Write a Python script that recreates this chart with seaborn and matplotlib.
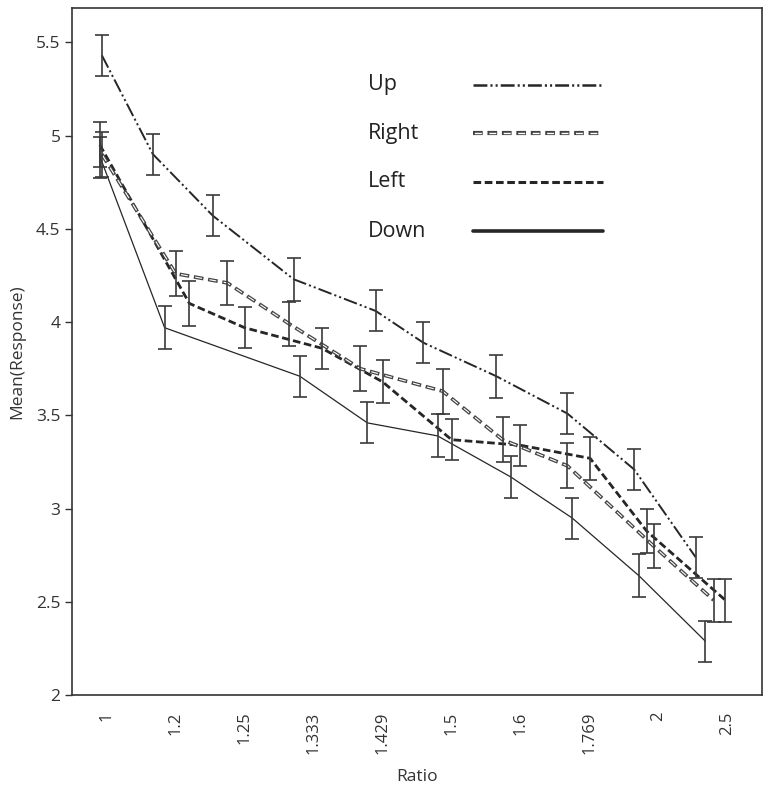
import numpy as np
import pandas as pd
import matplotlib
matplotlib.use("Agg")
import matplotlib.pyplot as plt
import seaborn as sns

# Categories on the x axis
ratios = ['1', '1.2', '1.25', '1.333', '1.429', '1.5', '1.6', '1.769', '2', '2.5']
directions = ['Up', 'Right', 'Left', 'Down']

# Mean response per ratio (Down has no 1.25 point)
up_mean = [5.43, 4.90, 4.57, 4.23, 4.06, 3.89, 3.71, 3.51, 3.21, 2.74]
right_mean = [4.90, 4.26, 4.21, 3.99, 3.75, 3.63, 3.37, 3.23, 2.80, 2.51]
left_mean = [4.95, 4.10, 3.97, 3.86, 3.68, 3.37, 3.34, 3.27, 2.88, 2.51]
down_mean = [4.88, 3.97, np.nan, 3.71, 3.46, 3.39, 3.17, 2.95, 2.64, 2.29]

# Half width of the error bars
up_err = [0.11, 0.11, 0.11, 0.115, 0.11, 0.11, 0.115, 0.11, 0.11, 0.11]
right_err = [0.12, 0.12, 0.12, 0.12, 0.12, 0.12, 0.12, 0.12, 0.12, 0.115]
left_err = [0.12, 0.12, 0.11, 0.11, 0.115, 0.11, 0.11, 0.115, 0.12, 0.115]
down_err = [0.11, 0.115, np.nan, 0.11, 0.11, 0.115, 0.11, 0.11, 0.115, 0.11]

# Jitter of each point inside its ratio slot (fraction of a slot)
up_shift = [-0.07, -0.33, -0.46, -0.29, -0.10, -0.41, -0.35, -0.32, -0.35, -0.46]
right_shift = [-0.07, 0.00, -0.25, -0.35, -0.32, -0.13, -0.26, -0.32, -0.07, -0.20]
left_shift = [-0.10, 0.20, 0.00, 0.12, 0.00, 0.00, 0.00, 0.01, -0.17, -0.03]
down_shift = [-0.09, -0.16, 0.00, -0.20, -0.22, -0.20, -0.14, -0.25, -0.28, -0.32]

means = {'Up': up_mean, 'Right': right_mean, 'Left': left_mean, 'Down': down_mean}
errs = {'Up': up_err, 'Right': right_err, 'Left': left_err, 'Down': down_err}
shifts = {'Up': up_shift, 'Right': right_shift, 'Left': left_shift, 'Down': down_shift}

rows = []
for d in directions:
    for i, r in enumerate(ratios):
        rows.append({'direction': d, 'ratio': r, 'pos': i + shifts[d][i],
                     'mean': means[d][i], 'err': errs[d][i]})
df = pd.DataFrame(rows).dropna()

sns.set_style('white')
plt.rcParams['font.family'] = ['Open Sans', 'DejaVu Sans']
plt.rcParams['lines.scale_dashes'] = False

ink = '#262626'
grey = '#333333'
fig, ax = plt.subplots(figsize=(7.68, 7.91), dpi=100)

up_ls = (0, (10, 2.2, 1.5, 2.2, 1.5, 2.2))
left_ls = (0, (5.5, 2.6))
right_ls_out = (0, (7, 3.4))
right_ls_in = (9.4, (5, 5.4))

sns.lineplot(data=df[df['direction'] == 'Up'], x='pos', y='mean', ax=ax,
             color=ink, lw=1.4, linestyle=up_ls, errorbar=None)
sns.lineplot(data=df[df['direction'] == 'Left'], x='pos', y='mean', ax=ax,
             color=ink, lw=2.0, linestyle=left_ls, errorbar=None)
sns.lineplot(data=df[df['direction'] == 'Down'], x='pos', y='mean', ax=ax,
             color=ink, lw=0.9, errorbar=None)
# Right: hollow dashes = dark dashed line with a thin white dashed line on top
sub = df[df['direction'] == 'Right']
sns.lineplot(data=sub, x='pos', y='mean', ax=ax, color='#444444', lw=2.6,
             linestyle=right_ls_out, errorbar=None)
sns.lineplot(data=sub, x='pos', y='mean', ax=ax, color='white', lw=0.8,
             linestyle=right_ls_in, errorbar=None)

# Error bars
for d in directions:
    sub = df[df['direction'] == d]
    ax.errorbar(sub['pos'], sub['mean'], yerr=sub['err'], fmt='none',
                ecolor='#3a3a3a', elinewidth=1.2, capsize=5, capthick=1.2, zorder=5)

ax.set_xlim(-0.5, len(ratios) - 0.5)
ax.set_ylim(2, 5.684)
ax.set_xticks(range(len(ratios)))
ax.set_xticklabels(ratios, rotation=90, fontsize=12, color=grey)
ax.set_yticks([2, 2.5, 3, 3.5, 4, 4.5, 5, 5.5])
ax.set_yticklabels(['2', '2.5', '3', '3.5', '4', '4.5', '5', '5.5'],
                   fontsize=12.5, color=grey)
ax.tick_params(axis='y', left=True, length=5, width=1, color=grey)
ax.tick_params(axis='x', bottom=False, pad=8)
ax.set_xlabel('Ratio', fontsize=12.5, color=grey, labelpad=11)
ax.set_ylabel('Mean(Response)', fontsize=12.5, color=grey, labelpad=8)
for s in ax.spines.values():
    s.set_color(grey)
    s.set_linewidth(1.2)

# Key: label on the left, line sample on the right
key_y = [0.888, 0.818, 0.747, 0.675]
key_styles = [
    [dict(color=ink, lw=1.8, linestyle=up_ls)],
    [dict(color='#444444', lw=3.0, linestyle=right_ls_out),
     dict(color='white', lw=1.0, linestyle=right_ls_in)],
    [dict(color=ink, lw=2.2, linestyle=left_ls)],
    [dict(color=ink, lw=2.6)],
]
for name, y, layers in zip(directions, key_y, key_styles):
    ax.text(0.429, y, name, transform=ax.transAxes, fontsize=15.5,
            color='#222222', va='center', ha='left')
    for kw in layers:
        ax.plot([0.581, 0.770], [y, y], transform=ax.transAxes, **kw)

fig.subplots_adjust(left=0.094, right=0.992, bottom=0.121, top=0.99)
fig.savefig('out.png', dpi=100)
